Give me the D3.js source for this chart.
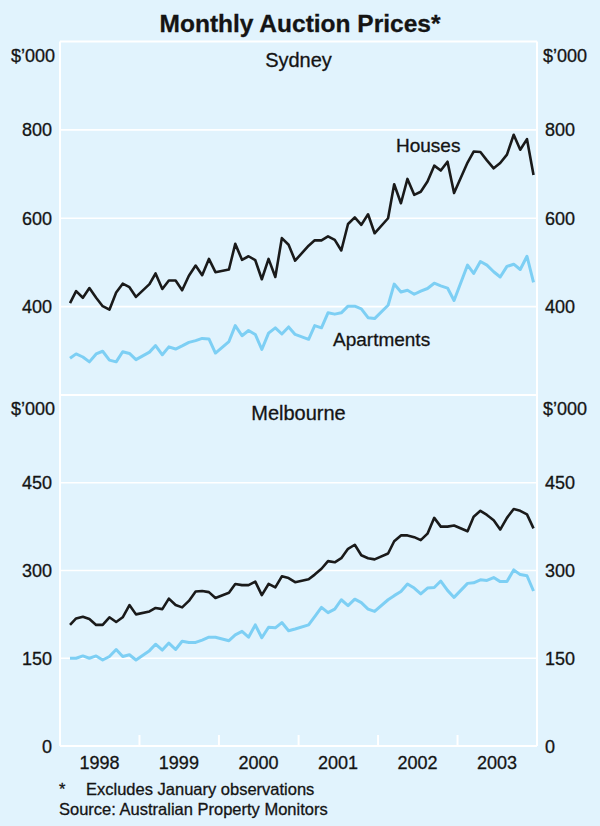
<!DOCTYPE html>
<html><head><meta charset="utf-8">
<script src="https://cdn.jsdelivr.net/npm/d3@7"></script>
<style>
html,body{margin:0;padding:0;background:#e1f3fd;}
svg{display:block;}
text{font-family:"Liberation Sans",Arial,Helvetica,sans-serif;fill:#141414;stroke:#141414;stroke-width:0.3px;}
</style></head><body>
<svg id="chart" width="600" height="826"></svg>
<script>
// Monthly observations, January excluded
const dates = [
"1998-02","1998-03","1998-04","1998-05","1998-06","1998-07","1998-08","1998-09","1998-10","1998-11","1998-12",
"1999-02","1999-03","1999-04","1999-05","1999-06","1999-07","1999-08","1999-09","1999-10","1999-11","1999-12",
"2000-02","2000-03","2000-04","2000-05","2000-06","2000-07","2000-08","2000-09","2000-10","2000-11","2000-12",
"2001-02","2001-03","2001-04","2001-05","2001-06","2001-07","2001-08","2001-09","2001-10","2001-11","2001-12",
"2002-02","2002-03","2002-04","2002-05","2002-06","2002-07","2002-08","2002-09","2002-10","2002-11","2002-12",
"2003-02","2003-03","2003-04","2003-05","2003-06","2003-07","2003-08","2003-09","2003-10","2003-11","2003-12"];

const sydneyHouses = [
408,435,420,442,420,401,393,432,452,444,422,
451,475,440,459,459,437,470,493,471,508,478,
484,542,506,514,505,462,508,467,555,540,504,
538,550,550,559,551,527,587,602,585,609,566,
600,677,634,689,653,660,683,719,708,728,657,
726,751,750,731,713,725,744,789,755,779,698];

const sydneyApartments = [
283,293,286,275,293,299,279,275,298,294,280,
297,312,291,309,304,311,319,323,328,327,295,
321,357,334,346,337,303,340,352,338,354,337,
326,357,352,386,383,386,401,401,395,375,373,
403,451,433,437,428,435,441,453,447,442,414,
494,475,502,494,479,467,491,496,484,514,455];

const melbourneHouses = [
207,218,221,217,207,207,220,212,220,241,225,
230,236,234,252,241,237,248,264,265,263,253,
262,277,275,275,281,258,277,271,290,287,280,
285,293,303,316,314,321,337,344,326,321,319,
329,350,360,360,357,352,363,390,375,375,377,
367,392,402,395,386,370,390,405,402,396,372];

const melbourneApartments = [
150,150,154,150,154,147,153,165,153,156,147,
163,174,164,176,165,179,177,177,181,186,186,
180,190,196,186,207,185,203,202,211,197,200,
207,221,237,228,234,250,240,251,245,234,230,
250,257,264,277,270,260,270,271,282,266,254,
278,279,284,283,288,281,281,301,293,291,265];

const sydneyTicks = [400, 600, 800];
const melbourneTicks = [0, 150, 300, 450];
const yearLabels = ["1998","1999","2000","2001","2002","2003"];

const W = 600, H = 826;
const left = 60, right = 537;
const topY = 41.5, midY = 395, botY = 746;
const bg = "#e1f3fd", black = "#1a1a1a", blue = "#7dcff4";

const svg = d3.select("#chart");
svg.append("rect").attr("width", W).attr("height", H).attr("fill", bg);

const parseM = d3.timeParse("%Y-%m");
const pts = dates.map(s => { const d = parseM(s); return new Date(d.getFullYear(), d.getMonth(), 16); });

const x = d3.scaleTime().domain([new Date(1998,0,1), new Date(2004,0,1)]).range([left, right]);
const ySyd = d3.scaleLinear().domain([200, 1000]).range([midY, topY]);
const yMel = d3.scaleLinear().domain([0, 600]).range([botY, midY]);

const g = svg.append("g");

function gridAndLabels(y, ticks) {
  ticks.forEach(t => {
    const yy = y(t);
    g.append("line").attr("x1", left).attr("x2", right).attr("y1", yy).attr("y2", yy)
      .attr("stroke", "#fff").attr("stroke-width", 1.6);
    g.append("text").attr("x", 52).attr("y", yy + 6.5).attr("text-anchor", "end")
      .attr("font-size", 18).text(t);
    g.append("text").attr("x", 545).attr("y", yy + 6.5).attr("text-anchor", "start")
      .attr("font-size", 18).text(t);
  });
}
gridAndLabels(ySyd, sydneyTicks);
gridAndLabels(yMel, melbourneTicks);

// frame
[topY, midY, botY].forEach(yy => {
  g.append("line").attr("x1", left).attr("x2", right).attr("y1", yy).attr("y2", yy)
    .attr("stroke", "#fff").attr("stroke-width", 2);
});
[left, right].forEach(xx => {
  g.append("line").attr("x1", xx).attr("x2", xx).attr("y1", topY).attr("y2", botY)
    .attr("stroke", "#fff").attr("stroke-width", 2);
});

// year ticks
const yearBounds = d3.range(1999, 2004).map(yv => new Date(yv, 0, 1));
yearBounds.forEach(d => {
  g.append("line").attr("x1", x(d)).attr("x2", x(d)).attr("y1", botY).attr("y2", botY - 11)
    .attr("stroke", "#fff").attr("stroke-width", 2);
});
yearLabels.forEach(lbl => {
  const d = new Date(+lbl, 6, 1);
  g.append("text").attr("x", x(d)).attr("y", 768.5).attr("text-anchor", "middle")
    .attr("font-size", 18).text(lbl);
});

// unit labels
[[topY + 20], [midY + 19.5]].forEach(([yy]) => {
  g.append("text").attr("x", 55).attr("y", yy).attr("text-anchor", "end").attr("font-size", 18).text("$’000");
  g.append("text").attr("x", 543).attr("y", yy).attr("text-anchor", "start").attr("font-size", 18).text("$’000");
});

// panel titles
g.append("text").attr("x", (left + right) / 2).attr("y", 66.5).attr("text-anchor", "middle")
  .attr("font-size", 20).text("Sydney");
g.append("text").attr("x", (left + right) / 2).attr("y", 419.5).attr("text-anchor", "middle")
  .attr("font-size", 20).text("Melbourne");

// lines
function drawLine(vals, y, color, w) {
  const line = d3.line().x((d, i) => x(pts[i])).y(d => y(d)).curve(d3.curveLinear);
  g.append("path").datum(vals).attr("d", line).attr("fill", "none")
    .attr("stroke", color).attr("stroke-width", w).attr("stroke-linejoin", "round");
}
drawLine(sydneyApartments, ySyd, blue, 3);
drawLine(sydneyHouses, ySyd, black, 2.6);
drawLine(melbourneApartments, yMel, blue, 3);
drawLine(melbourneHouses, yMel, black, 2.6);

// series labels
g.append("text").attr("x", 396).attr("y", 151.5).attr("font-size", 19).text("Houses");
g.append("text").attr("x", 333).attr("y", 346).attr("font-size", 19).text("Apartments");

// title
svg.append("text").attr("x", 300).attr("y", 31.5).attr("text-anchor", "middle")
  .attr("font-size", 24.5).attr("font-weight", "bold").text("Monthly Auction Prices*");

// footnotes
svg.append("text").attr("x", 59).attr("y", 795).attr("font-size", 16.5).text("*");
svg.append("text").attr("x", 86).attr("y", 795).attr("font-size", 16.5).text("Excludes January observations");
svg.append("text").attr("x", 59).attr("y", 815).attr("font-size", 16.5).text("Source: Australian Property Monitors");
</script>
</body></html>
